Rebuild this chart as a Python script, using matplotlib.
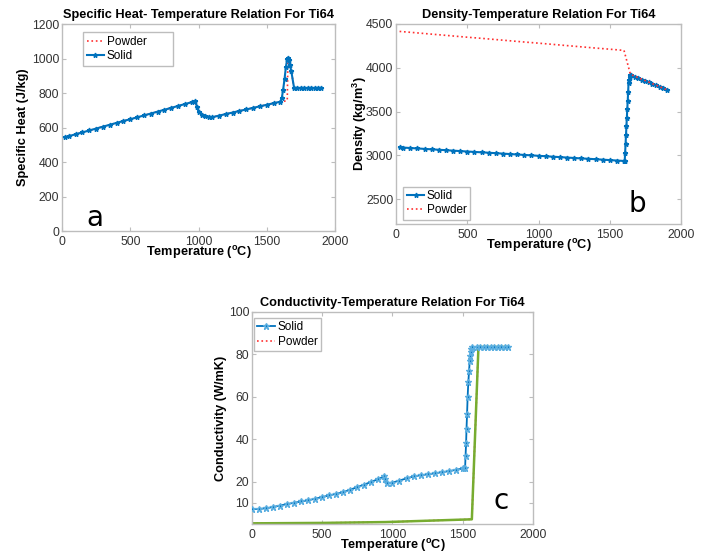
"""Ti64 property-temperature plots (specific heat, density, conductivity)."""

import matplotlib
matplotlib.use("Agg")
import matplotlib.pyplot as plt

BLUE = "#0072BD"
RED = "#FF3030"
GREEN = "#77AC30"
SPINE = "#BDBDBD"
TICKTXT = "#333333"

# ---- panel a: specific heat ----
Ta_solid = [25, 50, 100, 150, 200, 250, 300, 350, 400, 450, 500, 550, 600,
            650, 700, 750, 800, 850, 900, 950, 975, 990, 1000, 1025, 1050,
            1075, 1100, 1150, 1200, 1250, 1300, 1350, 1400, 1450, 1500, 1550,
            1600, 1610, 1620, 1630, 1640, 1650, 1655, 1660, 1670, 1680, 1700,
            1725, 1750, 1775, 1800, 1825, 1850, 1875, 1900]
cp_solid = [545, 550, 561, 572, 583, 594, 605, 616, 627, 638, 648, 659, 670,
            681, 692, 703, 714, 725, 736, 747, 752, 720, 690, 675, 668,
            663, 660, 669, 678, 687, 696, 705, 714, 723, 732, 741,
            750, 770, 820, 880, 950, 1000, 1005, 990, 960, 925, 830,
            830, 830, 830, 830, 830, 830, 830, 830]
Ta_powder = [25, 100, 200, 300, 400, 500, 600, 700, 800, 900, 950, 975, 1000,
             1050, 1100, 1200, 1300, 1400, 1500, 1600, 1625, 1650, 1655,
             1660, 1670, 1680, 1700, 1800, 1900]
cp_powder = [545, 561, 583, 605, 627, 648, 670, 692, 714, 736, 747, 752, 690,
             668, 660, 678, 696, 714, 732, 750, 752, 757, 990,
             990, 960, 925, 830, 830, 830]

# ---- panel b: density ----
Tb_solid = [25, 50, 100, 150, 200, 250, 300, 350, 400, 450, 500, 550, 600,
            650, 700, 750, 800, 850, 900, 950, 1000, 1050, 1100, 1150, 1200,
            1250, 1300, 1350, 1400, 1450, 1500, 1550, 1600, 1605, 1608, 1611,
            1614, 1617, 1620, 1623, 1626, 1629, 1632, 1635, 1640, 1645, 1650,
            1675, 1700, 1725, 1750, 1775, 1800, 1825, 1850, 1875, 1900]
rho_solid = [3090, 3088, 3083, 3078, 3073, 3068, 3063, 3058, 3053, 3048, 3043,
             3038, 3034, 3029, 3024, 3019, 3014, 3009, 3004, 2999, 2994, 2989,
             2984, 2979, 2974, 2969, 2964, 2960, 2955, 2950, 2945, 2940, 2935,
             2935, 3030, 3130, 3230, 3330, 3430, 3530, 3620, 3720, 3830, 3860,
             3900, 3920, 3915, 3898, 3882, 3865, 3849, 3832, 3816, 3799, 3783,
             3766, 3750]
Tb_powder = [25, 100, 200, 300, 400, 500, 600, 700, 800, 900, 1000, 1100, 1200,
             1300, 1400, 1500, 1600, 1645, 1700, 1800, 1900]
rho_powder = [4415, 4405, 4391, 4377, 4363, 4349, 4336, 4322, 4308, 4294, 4281,
              4267, 4253, 4239, 4225, 4212, 4198, 3925, 3887, 3818, 3750]

# ---- panel c: conductivity ----
Tc_solid = [0, 50, 100, 150, 200, 250, 300, 350, 400, 450, 500, 550, 600, 650,
            700, 750, 800, 850, 900, 940, 950, 960, 1000, 1050, 1100, 1150,
            1200, 1250, 1300, 1350, 1400, 1450, 1500, 1517, 1520, 1524, 1527,
            1531, 1535, 1540, 1545, 1550, 1553, 1556, 1560, 1565, 1600, 1625,
            1650, 1675, 1700, 1725, 1750, 1775, 1800, 1820]
k_solid = [7.0, 7.1, 7.4, 8.0, 8.7, 9.4, 10.0, 10.6, 11.2, 11.9, 12.7, 13.5,
           14.2, 15.0, 16.2, 17.4, 18.6, 19.9, 21.2, 22.5, 21.0, 19.2, 19.5,
           20.5, 21.5, 22.4, 23.0, 23.4, 23.9, 24.4, 24.9, 25.5, 26.2, 26.5,
           32, 38, 45, 52, 60, 67, 72, 77, 79, 81, 82.5, 83.5, 83.5, 83.5,
           83.5, 83.5, 83.5, 83.5, 83.5, 83.5, 83.5, 83.5]
Tc_powder = [0, 500, 950, 1565, 1612, 1820]
k_powder = [0.3, 0.5, 0.9, 2.2, 83.5, 83.5]

plt.rcParams.update({
    "font.family": ["Liberation Sans", "DejaVu Sans"],
    "font.size": 8.5,
    "axes.edgecolor": SPINE,
    "xtick.color": SPINE,
    "ytick.color": SPINE,
    "xtick.labelcolor": TICKTXT,
    "ytick.labelcolor": TICKTXT,
    "xtick.direction": "in",
    "ytick.direction": "in",
    "xtick.top": True,
    "ytick.right": True,
    "xtick.major.size": 3,
    "ytick.major.size": 3,
    "legend.fancybox": False,
    "legend.edgecolor": SPINE,
    "legend.framealpha": 1,
    "mathtext.default": "regular",
})

XLABEL = "Temperature ($^{o}$C)"
LEG = dict(fontsize=8.5, handlelength=1.5, borderpad=0.3, labelspacing=0.2,
           handletextpad=0.2, borderaxespad=0)


def style_axes(ax, title, ylabel, ylabelpad=2):
    ax.set_title(title, fontsize=9.2, fontweight="bold", pad=4.5)
    ax.set_xlabel(XLABEL, fontsize=9.2, fontweight="bold", labelpad=-2.5)
    ax.set_ylabel(ylabel, fontsize=9.2, fontweight="bold", labelpad=ylabelpad)
    ax.set_xlim(0, 2000)
    ax.set_xticks([0, 500, 1000, 1500, 2000])
    ax.tick_params(axis="x", labelsize=8.8, pad=3.5, width=0.8)
    ax.tick_params(axis="y", labelsize=8.8, pad=2, width=0.8)
    for s in ax.spines.values():
        s.set_linewidth(1.0)


fig = plt.figure(figsize=(7.11, 5.54), dpi=100)

# panel a
ax_a = fig.add_axes([0.0872, 0.583, 0.384, 0.3736])
ax_a.plot(Ta_powder, cp_powder, ":", color=RED, lw=1.2, label="Powder", zorder=2)
ax_a.plot(Ta_solid, cp_solid, "-", color=BLUE, lw=1.5, marker="*", ms=3.5,
          label="Solid", zorder=3)
ax_a.set_ylim(0, 1200)
ax_a.set_yticks(range(0, 1201, 200))
style_axes(ax_a, "Specific Heat- Temperature Relation For Ti64",
           "Specific Heat (J/kg)")
ax_a.legend(loc="upper left", bbox_to_anchor=(0.077, 0.815, 0.33, 0.146),
            mode="expand", **LEG)
ax_a.text(0.12, 0.065, "a", transform=ax_a.transAxes, fontsize=20,
          family="DejaVu Sans", ha="center", va="center")

# panel b
ax_b = fig.add_axes([0.557, 0.5957, 0.4008, 0.361])
ax_b.plot(Tb_solid, rho_solid, "-", color=BLUE, lw=1.5, marker="*", ms=3.5,
          label="Solid", zorder=2)
ax_b.plot(Tb_powder, rho_powder, ":", color=RED, lw=1.2, label="Powder",
          zorder=3)
ax_b.set_ylim(2215, 4500)
ax_b.set_yticks([2500, 3000, 3500, 4000, 4500])
style_axes(ax_b, "Density-Temperature Relation For Ti64",
           "Density (kg/m$^3$)", ylabelpad=-2)
ax_b.legend(loc="lower left", bbox_to_anchor=(0.025, 0.02), **LEG)
ax_b.text(0.846, 0.1, "b", transform=ax_b.transAxes, fontsize=20,
          family="DejaVu Sans", ha="center", va="center")

# panel c
ax_c = fig.add_axes([0.3544, 0.0542, 0.3952, 0.3827])
ax_c.plot(Tc_powder, k_powder, ":", color=RED, lw=1.2, label="Powder",
          zorder=1)
ax_c.plot(Tc_powder, k_powder, "-", color=GREEN, lw=1.8, zorder=2)
ax_c.plot(Tc_solid, k_solid, "-", color=BLUE, lw=1.3, marker="*", ms=5,
          mec="#5AAEE0", label="Solid", zorder=3)
ax_c.set_ylim(0, 100)
ax_c.set_yticks([10, 20, 40, 60, 80, 100])
style_axes(ax_c, "Conductivity-Temperature Relation For Ti64",
           "Conductivity (W/mK)", ylabelpad=1)
handles, labels = ax_c.get_legend_handles_labels()
ax_c.legend(handles[::-1], labels[::-1], loc="upper left",
            bbox_to_anchor=(0.007, 0.972), **LEG)
ax_c.text(0.886, 0.11, "c", transform=ax_c.transAxes, fontsize=20,
          family="DejaVu Sans", ha="center", va="center")

fig.savefig("out.png", dpi=100)
